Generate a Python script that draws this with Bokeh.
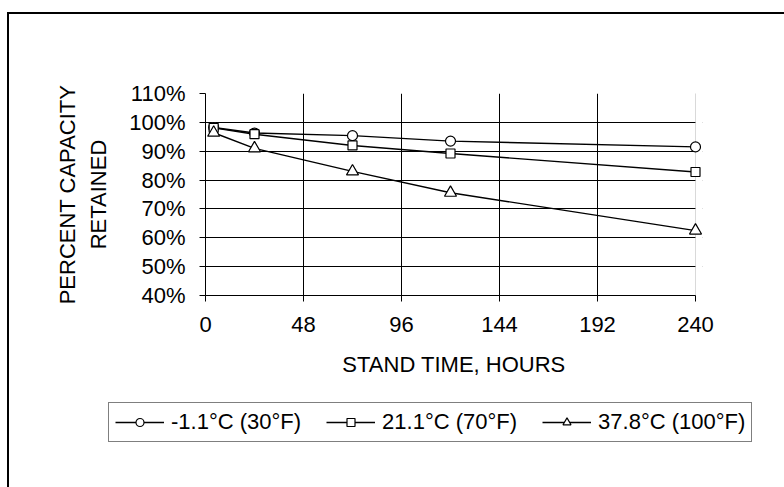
from bokeh.plotting import figure
from bokeh.layouts import column
from bokeh.models import (Range1d, FixedTicker, PrintfTickFormatter, Legend, LegendItem, Grid,
                          BoxAnnotation)
from bokeh.embed import file_html
from bokeh.resources import INLINE

# ---- data ----
hours = [4, 24, 72, 120, 240]
cap_30F = [98.2, 96.3, 95.4, 93.5, 91.5]
cap_70F = [98.1, 95.9, 92.0, 89.2, 82.8]
cap_100F = [96.4, 91.0, 83.0, 75.6, 62.5]
series_names = ["-1.1°C (30°F)", "21.1°C (70°F)", "37.8°C (100°F)"]
x_ticks = [0, 48, 96, 144, 192, 240]
y_ticks = [40, 50, 60, 70, 80, 90, 100, 110]

FONT = "Liberation Sans"
FS = "22px"

# frame is a little wider than the 0-240 area so the last markers are not clipped
FRAME_W = 775 - 196 - 82          # pixels
AREA_W = 490                      # pixels covered by 0..240 hours
x_end = 240 * FRAME_W / AREA_W

p = figure(width=775, height=381, output_backend="svg", toolbar_location=None,
           x_range=Range1d(0, x_end), y_range=Range1d(40, 110),
           min_border_left=196, min_border_right=82, min_border_top=79, min_border_bottom=100)

p.background_fill_color = "white"
p.border_fill_color = "white"
p.outline_line_color = None

# axes
p.xaxis.ticker = FixedTicker(ticks=x_ticks)
p.yaxis.ticker = FixedTicker(ticks=y_ticks)
p.yaxis.formatter = PrintfTickFormatter(format="%d%%")
p.xaxis.bounds = (0, 240)
for ax in (p.xaxis[0], p.yaxis[0]):
    ax.axis_line_color = "black"
    ax.axis_line_width = 1
    ax.major_tick_line_color = "black"
    ax.major_tick_in = 0
    ax.major_tick_out = 6
    ax.minor_tick_line_color = None
    ax.major_label_text_font = FONT
    ax.major_label_text_font_size = FS
    ax.major_label_text_color = "black"
    ax.axis_label_text_font = FONT
    ax.axis_label_text_font_size = FS
    ax.axis_label_text_font_style = "normal"
    ax.axis_label_text_color = "black"

p.xaxis.axis_label = "STAND TIME, HOURS"
p.xaxis.major_label_standoff = 15
p.xaxis.axis_label_standoff = 17
p.yaxis.axis_label = "PERCENT CAPACITY\nRETAINED"
p.yaxis.axis_label_text_line_height = 1.26
p.yaxis.major_label_standoff = 14
p.yaxis.axis_label_standoff = 15

# grid (black inner lines, grey plot-area edge at top and right)
p.xgrid.ticker = FixedTicker(ticks=[48, 96, 144, 192])
p.ygrid.ticker = FixedTicker(ticks=[50, 60, 70, 80, 90, 100])
p.xgrid.grid_line_color = "black"
p.ygrid.grid_line_color = "black"
p.xgrid.grid_line_width = 1
p.ygrid.grid_line_width = 1
p.add_layout(Grid(dimension=1, ticker=FixedTicker(ticks=[110]),
                  grid_line_color="#808080", grid_line_width=1))
# white strip right of 240 h, its left edge is the grey plot-area edge
p.add_layout(BoxAnnotation(left=240, right=1000, bottom=0, top=200,
                           fill_color="white", fill_alpha=1,
                           line_color="#808080", line_width=1, level="underlay"))

# legend panel (a plain figure whose frame only holds the legend)
pl = figure(width=775, height=92, output_backend="svg", toolbar_location=None,
            x_range=Range1d(-1000, -999), y_range=Range1d(-1000, -999),
            x_axis_type=None, y_axis_type=None,
            min_border_left=0, min_border_right=0, min_border_top=0, min_border_bottom=0)
pl.outline_line_color = None
pl.grid.visible = False
pl.background_fill_color = "white"
pl.border_fill_color = "white"

# series
items = []
markers = ["circle", "square", "triangle"]
sizes = [10, 9, 12]
for name, vals, mk, sz in zip(series_names, [cap_30F, cap_70F, cap_100F], markers, sizes):
    p.line(hours, vals, line_color="black", line_width=1.4)
    p.scatter(hours, vals, marker=mk, size=sz, fill_color="white",
              line_color="black", line_width=1.2)
    ln = pl.line(hours, vals, line_color="black", line_width=1.4)
    sc = pl.scatter(hours, vals, marker=mk, size=sz, fill_color="white",
                    line_color="black", line_width=1.2)
    items.append(LegendItem(label=name, renderers=[ln, sc]))

legend = Legend(items=items, orientation="horizontal", location=(99, 45),
                glyph_width=49, glyph_height=20, label_standoff=7, spacing=25,
                padding=6, margin=0, border_line_color="black", border_line_width=1,
                background_fill_color="white", background_fill_alpha=1,
                label_text_font=FONT, label_text_font_size=FS, label_text_color="black")
pl.add_layout(legend, "center")

top_block = column(p, margin=(12, 0, 0, 7),
                   styles={"border-top": "2px solid black", "border-left": "2px solid black"})
bottom_block = column(pl, margin=(0, 0, 0, 7),
                      styles={"border-left": "2px solid black"})

open("out.html", "w").write(file_html([top_block, bottom_block], INLINE))
